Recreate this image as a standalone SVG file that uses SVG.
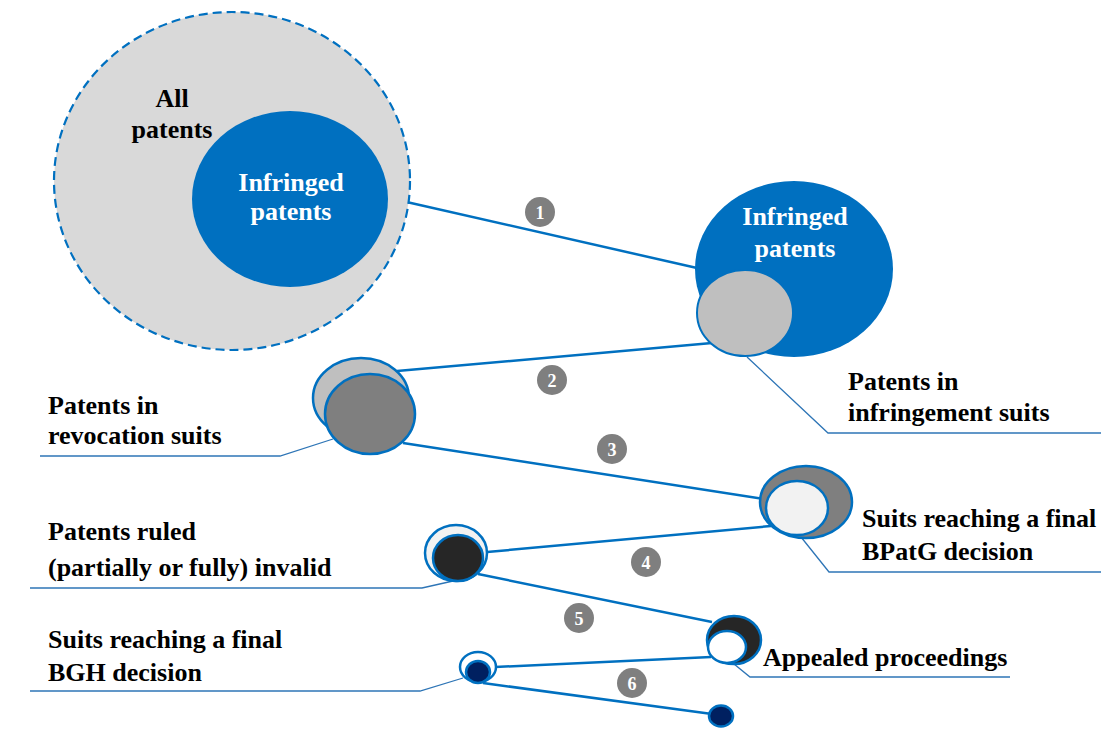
<svg xmlns="http://www.w3.org/2000/svg" width="1101" height="742" viewBox="0 0 1101 742">
  <style>
    .lbl { font-family: "Liberation Serif", "Times New Roman", serif; font-weight: bold; font-size: 26px; fill: #000; }
    .wlbl { font-family: "Liberation Serif", "Times New Roman", serif; font-weight: bold; font-size: 26px; fill: #fff; text-anchor: middle; }
    .conn { stroke: #0070c0; stroke-width: 2.5; fill: none; }
    .lead { stroke: #2e75b6; stroke-width: 1.3; fill: none; }
    .ring { stroke: #0070c0; stroke-width: 2.5; }
    .badge circle { fill: #7f7f7f; }
    .badge text { font-family: "Liberation Serif", "Times New Roman", serif; font-weight: bold; font-size: 18px; fill: #fff; text-anchor: middle; }
  </style>

  <!-- connectors between stages -->
  <g id="connectors">
    <line class="conn" x1="389" y1="198" x2="697" y2="268"/>
    <line class="conn" x1="397" y1="371" x2="712" y2="343"/>
    <line class="conn" x1="403" y1="443" x2="764" y2="499"/>
    <line class="conn" x1="487" y1="552" x2="771" y2="526"/>
    <line class="conn" x1="478" y1="574" x2="712" y2="622"/>
    <line class="conn" x1="495" y1="667" x2="711" y2="657"/>
    <line class="conn" x1="483" y1="683" x2="712" y2="714"/>
    <!-- leader lines to labels -->
    <polyline class="lead" points="747,357 828,433 1101,433"/>
    <polyline class="lead" points="333,439 280,456 40,456"/>
    <polyline class="lead" points="793,527 829,572 1101,572"/>
    <polyline class="lead" points="453,581 422,588 30,588"/>
    <polyline class="lead" points="723,655 750,677 1010,677"/>
    <polyline class="lead" points="463,678 420,691 30,691"/>
  </g>

  <!-- stage 0: all patents -->
  <g id="all-patents">
    <ellipse cx="232" cy="181" rx="178" ry="169" fill="#d9d9d9" stroke="#0070c0" stroke-width="2.2" stroke-dasharray="9,5"/>
    <text class="lbl" x="172" y="107" text-anchor="middle">All</text>
    <text class="lbl" x="172" y="138" text-anchor="middle">patents</text>
    <ellipse cx="290" cy="199" rx="98" ry="88" fill="#0070c0"/>
    <text class="wlbl" x="291" y="191">Infringed</text>
    <text class="wlbl" x="291" y="220">patents</text>
  </g>

  <!-- stage 1: infringed patents / infringement suits -->
  <g id="infringed">
    <ellipse cx="794" cy="269" rx="99" ry="88" fill="#0070c0"/>
    <text class="wlbl" x="795" y="225">Infringed</text>
    <text class="wlbl" x="795" y="257">patents</text>
    <ellipse cx="745" cy="313" rx="48" ry="43" fill="#bfbfbf" stroke="#0070c0" stroke-width="2"/>
    <text class="lbl" x="848" y="390">Patents in</text>
    <text class="lbl" x="848" y="421">infringement suits</text>
  </g>

  <!-- stage 2: revocation suits -->
  <g id="revocation">
    <ellipse class="ring" cx="361" cy="398" rx="48" ry="40" fill="#bfbfbf"/>
    <ellipse class="ring" cx="370" cy="414" rx="45" ry="40" fill="#7f7f7f"/>
    <text class="lbl" x="48" y="414">Patents in</text>
    <text class="lbl" x="48" y="444">revocation suits</text>
  </g>

  <!-- stage 3: BPatG decision -->
  <g id="bpatg">
    <ellipse class="ring" cx="806" cy="502" rx="46" ry="36" fill="#7f7f7f"/>
    <ellipse class="ring" cx="797" cy="508" rx="31" ry="27" fill="#f2f2f2"/>
    <text class="lbl" x="862" y="527">Suits reaching a final</text>
    <text class="lbl" x="862" y="560">BPatG decision</text>
  </g>

  <!-- stage 4: ruled invalid -->
  <g id="invalid">
    <ellipse class="ring" cx="456" cy="553" rx="31" ry="28" fill="#f2f2f2"/>
    <ellipse class="ring" cx="458" cy="558" rx="25" ry="23" fill="#262626"/>
    <text class="lbl" x="48" y="540">Patents ruled</text>
    <text class="lbl" x="48" y="576">(partially or fully) invalid</text>
  </g>

  <!-- stage 5: appealed -->
  <g id="appealed">
    <ellipse class="ring" cx="734" cy="640" rx="27" ry="24" fill="#262626"/>
    <ellipse class="ring" cx="727" cy="647" rx="19" ry="16" fill="#ffffff"/>
    <text class="lbl" x="763" y="666">Appealed proceedings</text>
  </g>

  <!-- stage 6: BGH decision -->
  <g id="bgh">
    <ellipse class="ring" cx="478" cy="667" rx="18" ry="15" fill="#ffffff"/>
    <ellipse class="ring" cx="478" cy="672" rx="12" ry="11" fill="#002060"/>
    <text class="lbl" x="48" y="648">Suits reaching a final</text>
    <text class="lbl" x="48" y="681">BGH decision</text>
  </g>

  <!-- final outcome -->
  <g id="final">
    <ellipse class="ring" cx="721" cy="716" rx="12" ry="10.5" fill="#002060"/>
  </g>

  <!-- step numbers -->
  <g id="badges" class="badge">
    <circle cx="540" cy="212" r="15"/><text x="540" y="219">1</text>
    <circle cx="552" cy="380" r="15"/><text x="552" y="387">2</text>
    <circle cx="612" cy="449" r="15"/><text x="612" y="456">3</text>
    <circle cx="646" cy="562" r="15"/><text x="646" y="569">4</text>
    <circle cx="579" cy="618" r="15"/><text x="579" y="625">5</text>
    <circle cx="632" cy="683" r="15"/><text x="632" y="690">6</text>
  </g>
</svg>
